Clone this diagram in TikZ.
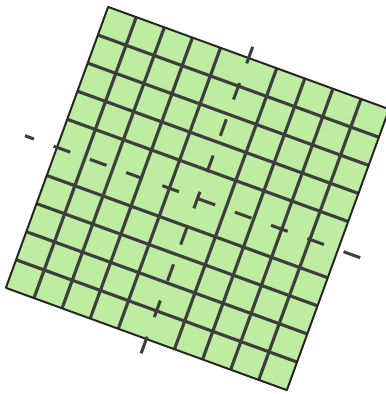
\documentclass[tikz,border=0pt]{standalone}
\usepackage{tikz}
\definecolor{cellgreen}{RGB}{190,236,160}
\definecolor{linegray}{RGB}{62,62,62}
\begin{document}
\begin{tikzpicture}[line join=round,
		cellline/.style={linegray, line width=3pt},
		axisdash/.style={linegray, line width=2.9pt, dash pattern=on 0.59cm off 0.7cm}]
	\useasboundingbox (-6.605,-6.538) rectangle (6.304,6.639);
	\begin{scope}[rotate=-20]
		\def\xmin{-5}\def\xmax{5}\def\ymin{-5}\def\ymax{5}
		\fill[cellgreen] (\xmin,\ymin) rectangle (\xmax,\ymax);
		\foreach \x in {-4,-3,-2,-1,1,2,3,4}\draw[cellline] (\x,\ymin)--(\x,\ymax);
		\foreach \y in {-4,-3,-2,-1,1,2,3,4}\draw[cellline] (\xmin,\y)--(\xmax,\y);
		\draw[line width=1.9pt, black!85] (\xmin,\ymin) rectangle (\xmax,\ymax);
		% dashed axes through the centre
		\draw[axisdash, dash phase=0.27cm] (-6.14,0)--(5.84,0);
		\draw[axisdash] (0,5.40)--(0,-5.51);
	\end{scope}
\end{tikzpicture}
\end{document}
